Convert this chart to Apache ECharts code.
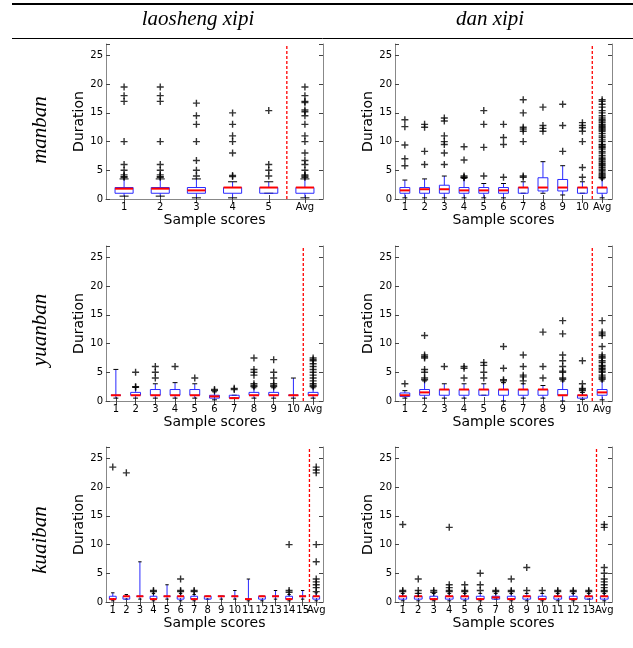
<!DOCTYPE html>
<html>
<head>
<meta charset="utf-8">
<style>
  html, body { margin: 0; padding: 0; background: #fff; }
  #chart { width: 633px; height: 648px; }
</style>
<script src="https://cdn.jsdelivr.net/npm/echarts@6/dist/echarts.min.js"></script>
</head>
<body>
<div id="chart"></div>
<script>
// box stats per score: [lowCap, q1, median, q3, highCap], fliers listed separately
const lsManLabels = ['1', '2', '3', '4', '5', 'Avg']
const lsManBoxes = [
  [0.5, 1.0, 1.8, 2.0, 3.5],
  [0.5, 1.0, 1.8, 2.0, 3.5],
  [0.2, 1.0, 1.5, 2.0, 3.5],
  [0.2, 1.0, 2.0, 2.0, 3.0],
  [1.0, 1.0, 2.0, 2.0, 3.0],
  [0.2, 1.0, 2.0, 2.0, 3.5]
]
const lsManFliers = [
  [19.5, 18, 17, 10, 6, 5, 4.2, 3.9, 3.8],
  [19.5, 18, 17, 10, 6, 5, 4.2, 3.9, 3.8],
  [16.7, 14.5, 13, 10, 6.7, 5, 4],
  [15, 13, 11, 10, 8, 4.1, 3.9],
  [15.4, 6, 5, 4],
  [19.5, 18, 17, 16.8, 15.5, 15.2, 14.5, 13, 11, 10, 8, 6.7, 6, 5, 4.2, 4, 3.8]
]

const danManLabels = ['1', '2', '3', '4', '5', '6', '7', '8', '9', '10', 'Avg']
const danManBoxes = [
  [0.2, 1.0, 1.5, 2.0, 3.3],
  [0.2, 1.0, 1.7, 2.0, 3.5],
  [0.2, 1.0, 1.7, 2.4, 4.0],
  [0.2, 1.0, 1.5, 2.0, 3.6],
  [0.2, 1.0, 1.5, 2.0, 2.7],
  [0.2, 1.0, 1.5, 2.0, 2.7],
  [1.0, 1.0, 2.0, 2.0, 3.0],
  [1.0, 1.4, 2.0, 3.7, 6.5],
  [0.7, 1.4, 2.0, 3.4, 5.8],
  [1.0, 1.0, 2.0, 2.0, 3.0],
  [0.2, 1.0, 2.0, 2.0, 3.5]
]
const danManFliers = [
  [13.8, 12.6, 9.4, 7, 5.8],
  [13, 12.5, 8.3, 6],
  [14.1, 13.6, 11, 10, 9.5, 8, 6],
  [9.1, 6.8, 4, 3.8, 3.7],
  [15.4, 13, 9, 4],
  [13, 10.7, 9.5, 3.8],
  [17.3, 15, 12.5, 12.2, 11.8, 10, 4, 3.8],
  [16, 12.8, 12.3, 11.8],
  [16.5, 12.8, 8.3],
  [13.3, 12.8, 12.4, 11.8, 10, 5.5, 3.8],
  [17.3, 17, 16.5, 16, 15.4, 15, 14.5, 14.1, 13.8, 13.6, 13.3, 13, 12.8, 12.6, 12.4, 12.2, 12,
   11.8, 11.4, 11, 10.7, 10.3, 10, 9.5, 9.4, 9.1, 9, 8.7, 8.3, 8, 7.6, 7.3, 7, 6.8, 6.5, 6.2, 6,
   5.8, 5.5, 5.2, 5, 4.7, 4.4, 4.2, 4, 3.8, 3.7]
]

const lsYuanLabels = ['1', '2', '3', '4', '5', '6', '7', '8', '9', '10', 'Avg']
const lsYuanBoxes = [
  [0.5, 1.0, 1.0, 1.0, 5.5],
  [0.5, 1.0, 1.0, 1.5, 2.4],
  [0.5, 1.0, 1.0, 2.0, 3.0],
  [0.5, 1.0, 1.0, 2.0, 3.2],
  [0.5, 1.0, 1.0, 2.0, 3.0],
  [0.2, 0.5, 0.8, 1.0, 1.6],
  [0.5, 0.5, 0.5, 1.0, 1.0],
  [0.5, 1.0, 1.0, 1.5, 2.3],
  [0.5, 1.0, 1.0, 1.5, 2.3],
  [0.5, 1.0, 1.0, 1.0, 4.0],
  [0.5, 1.0, 1.0, 1.5, 2.3]
]
const lsYuanFliers = [
  [],
  [5, 2.5, 2.4],
  [6, 5, 4],
  [6],
  [4],
  [2, 1.8],
  [2.2, 2.0],
  [7.5, 5.5, 5, 4.5, 3, 2.7, 2.5],
  [7.2, 5, 4, 3, 2.7, 2.5],
  [],
  [7.5, 7.2, 7, 6.5, 6, 5.5, 5, 4.5, 4, 3.5, 3, 2.7, 2.5]
]

const danYuanLabels = ['1', '2', '3', '4', '5', '6', '7', '8', '9', '10', 'Avg']
const danYuanBoxes = [
  [0.5, 0.8, 1.0, 1.4, 1.8],
  [0.5, 1.0, 1.5, 2.0, 3.5],
  [0.5, 1.0, 2.0, 2.0, 3.0],
  [0.5, 1.0, 2.0, 2.0, 3.0],
  [1.0, 1.0, 2.0, 2.0, 3.0],
  [0.0, 1.0, 2.0, 2.0, 3.2],
  [0.5, 1.0, 2.0, 2.0, 3.0],
  [0.5, 1.0, 2.0, 2.0, 2.7],
  [0.0, 1.0, 1.0, 2.0, 3.5],
  [0.3, 0.5, 1.0, 1.0, 1.5],
  [0.2, 1.0, 1.5, 2.0, 3.5]
]
const danYuanFliers = [
  [3],
  [11.4, 8, 7.7, 7.5, 5.5, 5, 4, 3.7],
  [6],
  [6, 5.7, 4],
  [6.7, 6.2, 5, 4],
  [9.5, 5.7, 3.7, 3.5],
  [8, 6, 4.5, 4.2, 3.5],
  [12, 6, 4],
  [14, 11.7, 8, 7, 6, 5.2, 5, 4, 3.8],
  [7, 3, 2.2, 2, 1.8],
  [14, 12, 11.7, 11.4, 9.5, 8, 7.7, 7.5, 7, 6.7, 6.2, 6, 5.7, 5.5, 5.2, 5, 4.5, 4.2, 4, 3.8]
]

const lsKuaiLabels = ['1', '2', '3', '4', '5', '6', '7', '8', '9', '10', '11', '12', '13', '14', '15', 'Avg']
const lsKuaiBoxes = [
  [0.2, 0.5, 0.5, 1.0, 1.6],
  [0.5, 0.5, 1.0, 1.0, 1.3],
  [0.5, 1.0, 1.0, 1.0, 7.0],
  [0.2, 0.5, 0.5, 1.0, 1.5],
  [0.5, 1.0, 1.0, 1.0, 3.0],
  [0.2, 0.5, 1.0, 1.0, 1.5],
  [0.2, 0.5, 0.5, 1.0, 1.3],
  [0.5, 0.5, 1.0, 1.0, 1.0],
  [0.5, 1.0, 1.0, 1.0, 1.0],
  [0.5, 1.0, 1.0, 1.0, 2.0],
  [0.2, 0.5, 0.5, 0.5, 4.0],
  [0.2, 0.5, 1.0, 1.0, 1.0],
  [0.5, 1.0, 1.0, 1.0, 2.0],
  [0.2, 0.5, 0.5, 1.0, 1.3],
  [0.5, 1.0, 1.0, 1.0, 2.0],
  [0.2, 0.5, 1.0, 1.0, 1.6]
]
const lsKuaiFliers = [
  [23.5], [22.5], [], [2, 1.8], [], [4, 2, 1.8], [2, 1.8], [], [], [], [], [], [], [10, 2, 1.7], [],
  [23.5, 23, 22.5, 10, 7, 4, 3.5, 3, 2.5, 1.8]
]

const danKuaiLabels = ['1', '2', '3', '4', '5', '6', '7', '8', '9', '10', '11', '12', '13', 'Avg']
const danKuaiBoxes = [
  [0.2, 0.5, 1.0, 1.0, 1.5],
  [0.2, 0.5, 1.0, 1.0, 1.5],
  [0.2, 0.5, 0.5, 1.0, 1.5],
  [0.2, 0.5, 1.0, 1.0, 1.5],
  [0.2, 0.5, 1.0, 1.0, 1.5],
  [0.2, 0.5, 0.5, 1.0, 1.5],
  [0.5, 0.5, 0.8, 1.0, 1.5],
  [0.2, 0.5, 0.5, 1.0, 1.5],
  [0.2, 0.5, 1.0, 1.0, 1.5],
  [0.2, 0.5, 0.5, 1.0, 1.5],
  [0.2, 0.5, 1.0, 1.0, 1.5],
  [0.2, 0.5, 0.5, 1.0, 1.5],
  [0.5, 0.5, 1.0, 1.0, 1.5],
  [0.2, 0.5, 1.0, 1.0, 1.5]
]
const danKuaiFliers = [
  [13.5, 2, 1.8], [4, 2, 1.5], [2, 1.7], [13, 3, 2.5, 2, 1.8], [3, 2, 1.8], [5, 3, 2], [2, 1.8],
  [4, 2, 1.8], [6, 2], [2], [2, 1.8], [2, 1.8], [2, 1.8],
  [13.5, 13, 6, 5, 4, 3.5, 3, 2.5, 2, 1.8]
]

const columnTitles = ['laosheng xipi', 'dan xipi']
const rowTitles = ['manban', 'yuanban', 'kuaiban']

const panels = [
  { labels: lsManLabels, boxes: lsManBoxes, fliers: lsManFliers },
  { labels: danManLabels, boxes: danManBoxes, fliers: danManFliers },
  { labels: lsYuanLabels, boxes: lsYuanBoxes, fliers: lsYuanFliers },
  { labels: danYuanLabels, boxes: danYuanBoxes, fliers: danYuanFliers },
  { labels: lsKuaiLabels, boxes: lsKuaiBoxes, fliers: lsKuaiFliers },
  { labels: danKuaiLabels, boxes: danKuaiBoxes, fliers: danKuaiFliers }
]

const colLeft = [106, 395]
const rowTop = [44, 246, 447]
const plotW = 217
const plotH = 155
const frame = '#888'
const blue = '#2a2aff'
const tickFont = 'DejaVu Sans'
const plus = 'path://M4,0h2v4h4v2h-4v4h-2v-4h-4v-2h4z'

const renderBox = (params, api) => {
  const i = api.value(0)
  const w = api.size([1, 0])[0] * 0.5
  const cx = api.coord([i, 0])[0]
  const y = k => api.coord([i, api.value(k)])[1]
  const lo = y(1), q1 = y(2), md = y(3), q3 = y(4), hi = y(5)
  const seg = (x1, y1, x2, y2, stroke, lineWidth) =>
    ({ type: 'line', shape: { x1, y1, x2, y2 }, style: { stroke, lineWidth } })
  return {
    type: 'group',
    children: [
      seg(cx, q1, cx, lo, blue, 1),
      seg(cx, q3, cx, hi, blue, 1),
      seg(cx - w / 4, lo, cx + w / 4, lo, '#000', 1),
      seg(cx - w / 4, hi, cx + w / 4, hi, '#000', 1),
      { type: 'rect', shape: { x: cx - w / 2, y: q3, width: w, height: q1 - q3 },
        style: { stroke: blue, fill: 'none', lineWidth: 1 } },
      seg(cx - w / 2, md, cx + w / 2, md, '#ff0000', 2)
    ]
  }
}

// dashed separator just before the Avg column
const renderDivider = (params, api) => {
  const i = api.value(0)
  const x = api.coord([i, 0])[0] - api.size([1, 0])[0] / 2
  const y0 = api.coord([i, 0])[1]
  const y1 = api.coord([i, 27])[1]
  return {
    type: 'line',
    shape: { x1: x, y1: y0, x2: x, y2: y1 },
    style: { stroke: '#ff0000', lineWidth: 1.3, lineDash: [3, 2] }
  }
}

const grid = [], xAxis = [], yAxis = [], series = []

panels.forEach((p, k) => {
  const col = k % 2, row = Math.floor(k / 2)
  grid.push({ left: colLeft[col], top: rowTop[row], width: plotW, height: plotH })
  const tick = { show: true, inside: true, length: 4, interval: 0, alignWithLabel: true, lineStyle: { color: '#444' } }
  const line = { show: true, lineStyle: { color: frame, width: 1 } }
  xAxis.push({
    type: 'category', gridIndex: k, data: p.labels, position: 'bottom',
    axisLine: line, axisTick: tick,
    axisLabel: { interval: 0, margin: 3, fontSize: 10, color: '#000', fontFamily: tickFont },
    name: 'Sample scores', nameLocation: 'middle', nameGap: 14,
    nameTextStyle: { fontSize: 14, color: '#000', fontFamily: tickFont },
    splitLine: { show: false }
  })
  xAxis.push({
    type: 'category', gridIndex: k, data: p.labels, position: 'top',
    axisLine: line, axisTick: tick, axisLabel: { show: false }, splitLine: { show: false }
  })
  const yTick = { show: true, inside: true, length: 4, lineStyle: { color: '#444' } }
  yAxis.push({
    type: 'value', gridIndex: k, min: 0, max: 27, interval: 5, position: 'left',
    axisLine: line, axisTick: yTick,
    axisLabel: {
      margin: 3, fontSize: 10, color: '#000', fontFamily: tickFont,
      formatter: v => (v % 5 === 0 ? String(v) : '')
    },
    name: 'Duration', nameLocation: 'middle', nameGap: 17, nameRotate: 90,
    nameTextStyle: { fontSize: 14, color: '#000', fontFamily: tickFont },
    splitLine: { show: false }
  })
  yAxis.push({
    type: 'value', gridIndex: k, min: 0, max: 27, interval: 5, position: 'right',
    axisLine: line, axisTick: yTick, axisLabel: { show: false }, splitLine: { show: false }
  })

  series.push({
    type: 'custom', xAxisIndex: 2 * k, yAxisIndex: 2 * k,
    renderItem: renderDivider, data: [[p.labels.length - 1]], silent: true, z: 1
  })
  series.push({
    type: 'custom', xAxisIndex: 2 * k, yAxisIndex: 2 * k,
    renderItem: renderBox, encode: { x: 0, y: [1, 2, 3, 4, 5] },
    data: p.boxes.map((b, i) => [i, ...b]), z: 2
  })
  const pts = []
  p.fliers.forEach((vals, i) => vals.forEach(v => pts.push([i, v])))
  series.push({
    type: 'scatter', xAxisIndex: 2 * k, yAxisIndex: 2 * k,
    symbol: plus, symbolSize: 7, itemStyle: { color: '#000' }, data: pts, z: 3
  })
})

const serif = '"Liberation Serif", "DejaVu Serif", serif'
const graphic = [
  { type: 'line', shape: { x1: 12, y1: 4, x2: 633, y2: 4 }, style: { stroke: '#000', lineWidth: 2 } },
  { type: 'line', shape: { x1: 12, y1: 38.5, x2: 633, y2: 38.5 }, style: { stroke: '#000', lineWidth: 1 } },
  ...columnTitles.map((t, i) => ({
    type: 'text', x: [198, 490][i], y: 19,
    style: { text: t, font: `italic 21px ${serif}`, fill: '#000', align: 'center', verticalAlign: 'middle' }
  })),
  ...rowTitles.map((t, i) => ({
    type: 'text', x: 40, y: [130, 330, 540][i], rotation: Math.PI / 2,
    style: { text: t, font: `italic 21px ${serif}`, fill: '#000', align: 'center', verticalAlign: 'middle' }
  }))
]

const chart = echarts.init(document.getElementById('chart'), null, { renderer: 'canvas' })
chart.setOption({
  animation: false,
  backgroundColor: '#fff',
  grid, xAxis, yAxis, series, graphic
})
</script>
</body>
</html>
